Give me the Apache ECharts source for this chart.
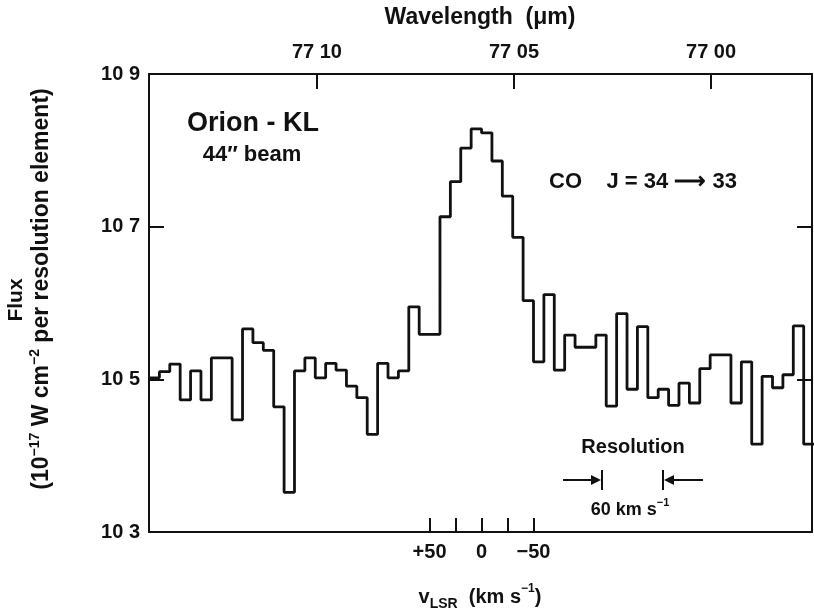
<!DOCTYPE html>
<html>
<head>
<meta charset="utf-8">
<script src="https://cdn.jsdelivr.net/npm/echarts@6/dist/echarts.min.js"></script>
<style>
  html, body { margin: 0; padding: 0; background: #fff; }
  #chart { width: 814px; height: 612px; }
</style>
</head>
<body>
<div id="chart"></div>
<script>
// bin edges in v_LSR (km/s), left to right
var velEdges = [320, 310, 300, 290, 280, 270, 260, 250, 240, 230, 220, 210, 200, 190, 180, 170,
    160, 150, 140, 130, 120, 110, 100, 90, 80, 70, 60, 50, 40, 30, 20, 10, 0,
    -10, -20, -30, -40, -50, -60, -70, -80, -90, -100, -110, -120, -130, -140, -150,
    -160, -170, -180, -190, -200, -210, -220, -230, -240, -250, -260, -270, -280, -290, -300, -310, -320];

// flux per bin (1e-17 W cm-2 per resolution element)
var flux = [10.502, 10.510, 10.520, 10.473, 10.511, 10.473, 10.528, 10.528, 10.447, 10.566,
    10.548, 10.538, 10.464, 10.352, 10.511, 10.528, 10.502, 10.521, 10.512, 10.491,
    10.476, 10.428, 10.521, 10.502, 10.511, 10.595, 10.559, 10.559, 10.713, 10.759,
    10.803, 10.828, 10.823, 10.786, 10.740, 10.686, 10.603, 10.523, 10.611, 10.512,
    10.558, 10.542, 10.542, 10.558, 10.465, 10.586, 10.487, 10.569, 10.476, 10.487,
    10.466, 10.495, 10.469, 10.514, 10.532, 10.532, 10.469, 10.523, 10.415, 10.504,
    10.489, 10.506, 10.570, 10.415];

var fluxTicks = [10.3, 10.5, 10.7, 10.9];
var velTicks = [50, 25, 0, -25, -50];
var velLabels = [50, 0, -50];
var waveTicks = [77.10, 77.05, 77.00];

var font = 'Liberation Sans, Arial, sans-serif';
var ink = '#111';

var points = [];
velEdges.forEach(function (v, i) {
    points.push([v, flux[Math.min(i, flux.length - 1)]]);
});

var dom = document.getElementById('chart');
var myChart = echarts.init(dom, null, {renderer: 'canvas'});

var lbl = {color: ink, fontFamily: font, fontSize: 20, fontWeight: 'bold'};

option = {
    animation: false,
    backgroundColor: '#fff',
    grid: {left: 149, right: 2, top: 74, bottom: 80},
    xAxis: [
        {
            type: 'value',
            min: -318,
            max: 320,
            inverse: true,
            position: 'bottom',
            axisLine: {show: true, onZero: false, lineStyle: {color: ink, width: 2}},
            axisTick: {show: true, inside: true, length: 14, customValues: velTicks,
                lineStyle: {color: ink, width: 2}},
            axisLabel: Object.assign({
                customValues: velLabels,
                margin: 10,
                formatter: function (v) {
                    if (v > 0) return '+' + v;
                    if (v < 0) return '\u2212' + Math.abs(v);
                    return '0';
                }
            }, lbl),
            splitLine: {show: false}
        },
        {
            type: 'value',
            min: 76.9744,
            max: 77.1426,
            inverse: true,
            position: 'top',
            axisLine: {show: true, onZero: false, lineStyle: {color: ink, width: 2}},
            axisTick: {show: true, inside: true, length: 15, customValues: waveTicks,
                lineStyle: {color: ink, width: 2}},
            axisLabel: Object.assign({
                customValues: waveTicks,
                margin: 12,
                formatter: function (v) { return v.toFixed(2).replace('.', ' '); }
            }, lbl),
            splitLine: {show: false}
        }
    ],
    yAxis: [
        {
            type: 'value',
            min: 10.3,
            max: 10.9,
            position: 'left',
            axisLine: {show: true, onZero: false, lineStyle: {color: ink, width: 2}},
            axisTick: {show: true, inside: true, length: 15, customValues: [10.5, 10.7],
                lineStyle: {color: ink, width: 2}},
            axisLabel: Object.assign({
                customValues: fluxTicks,
                margin: 9,
                formatter: function (v) { return v.toFixed(1).replace('.', ' '); }
            }, lbl),
            splitLine: {show: false}
        },
        {
            type: 'value',
            min: 10.3,
            max: 10.9,
            position: 'right',
            axisLine: {show: true, onZero: false, lineStyle: {color: ink, width: 2}},
            axisTick: {show: true, inside: true, length: 15, customValues: [10.5, 10.7],
                lineStyle: {color: ink, width: 2}},
            axisLabel: {show: false},
            splitLine: {show: false}
        }
    ],
    series: [
        {
            name: 'CO J=34-33',
            type: 'line',
            step: 'end',
            xAxisIndex: 0,
            yAxisIndex: 0,
            showSymbol: false,
            symbol: 'none',
            lineStyle: {color: ink, width: 2.8},
            data: points
        }
    ],
    graphic: [
        {type: 'text', x: 480, y: 18, style: {text: 'Wavelength  (\u03bcm)', font: 'bold 23px ' + font,
            fill: ink, align: 'center', verticalAlign: 'middle'}},
        {type: 'text', x: 480, y: 597, style: {
            text: '{v|v}{sub|LSR}{v|  (km s}{sup|\u22121}{v|)}',
            align: 'center', verticalAlign: 'middle',
            rich: {
                v: {fontFamily: font, fontWeight: 'bold', fontSize: 20, fill: ink, lineHeight: 28, verticalAlign: 'middle'},
                sub: {fontFamily: font, fontWeight: 'bold', fontSize: 14, fill: ink, lineHeight: 28, verticalAlign: 'bottom'},
                sup: {fontFamily: font, fontWeight: 'bold', fontSize: 12, fill: ink, lineHeight: 28, verticalAlign: 'top'}
            }
        }},
        {type: 'text', x: 16, y: 300, rotation: Math.PI / 2, style: {text: 'Flux',
            font: 'bold 21px ' + font, fill: ink, align: 'center', verticalAlign: 'middle'}},
        {type: 'text', x: 42, y: 289, rotation: Math.PI / 2, style: {
            text: '{v|(10}{sup|\u221217}{v| W cm}{sup|\u22122}{v| per resolution element)}',
            align: 'center', verticalAlign: 'middle',
            rich: {
                v: {fontFamily: font, fontWeight: 'bold', fontSize: 23, fill: ink, lineHeight: 28, verticalAlign: 'middle'},
                sup: {fontFamily: font, fontWeight: 'bold', fontSize: 14, fill: ink, lineHeight: 28, verticalAlign: 'top'}
            }
        }},
        {type: 'text', x: 253, y: 124, style: {text: 'Orion - KL', font: 'bold 27px ' + font,
            fill: ink, align: 'center', verticalAlign: 'middle'}},
        {type: 'text', x: 252, y: 155, style: {text: '44\u2033 beam', font: 'bold 22px ' + font,
            fill: ink, align: 'center', verticalAlign: 'middle'}},
        {type: 'text', x: 549, y: 182, style: {text: 'CO    J = 34 \u27f6 33', font: 'bold 22px ' + font,
            fill: ink, align: 'left', verticalAlign: 'middle'}},
        {type: 'text', x: 633, y: 447, style: {text: 'Resolution', font: 'bold 20px ' + font,
            fill: ink, align: 'center', verticalAlign: 'middle'}},
        {type: 'text', x: 630, y: 510, style: {
            text: '{v|60 km s}{sup|\u22121}',
            align: 'center', verticalAlign: 'middle',
            rich: {
                v: {fontFamily: font, fontWeight: 'bold', fontSize: 18, fill: ink, lineHeight: 26, verticalAlign: 'middle'},
                sup: {fontFamily: font, fontWeight: 'bold', fontSize: 11, fill: ink, lineHeight: 26, verticalAlign: 'top'}
            }
        }},
        // resolution bracket
        {type: 'line', shape: {x1: 563, y1: 480, x2: 594, y2: 480}, style: {stroke: ink, lineWidth: 2}},
        {type: 'polygon', shape: {points: [[601, 480], [591, 475], [591, 485]]}, style: {fill: ink}},
        {type: 'line', shape: {x1: 602, y1: 470, x2: 602, y2: 490}, style: {stroke: ink, lineWidth: 2}},
        {type: 'line', shape: {x1: 663, y1: 470, x2: 663, y2: 490}, style: {stroke: ink, lineWidth: 2}},
        {type: 'polygon', shape: {points: [[664, 480], [674, 475], [674, 485]]}, style: {fill: ink}},
        {type: 'line', shape: {x1: 672, y1: 480, x2: 703, y2: 480}, style: {stroke: ink, lineWidth: 2}}
    ]
};

if (option && typeof option === "object") {
    myChart.setOption(option, true);
}
</script>
</body>
</html>
